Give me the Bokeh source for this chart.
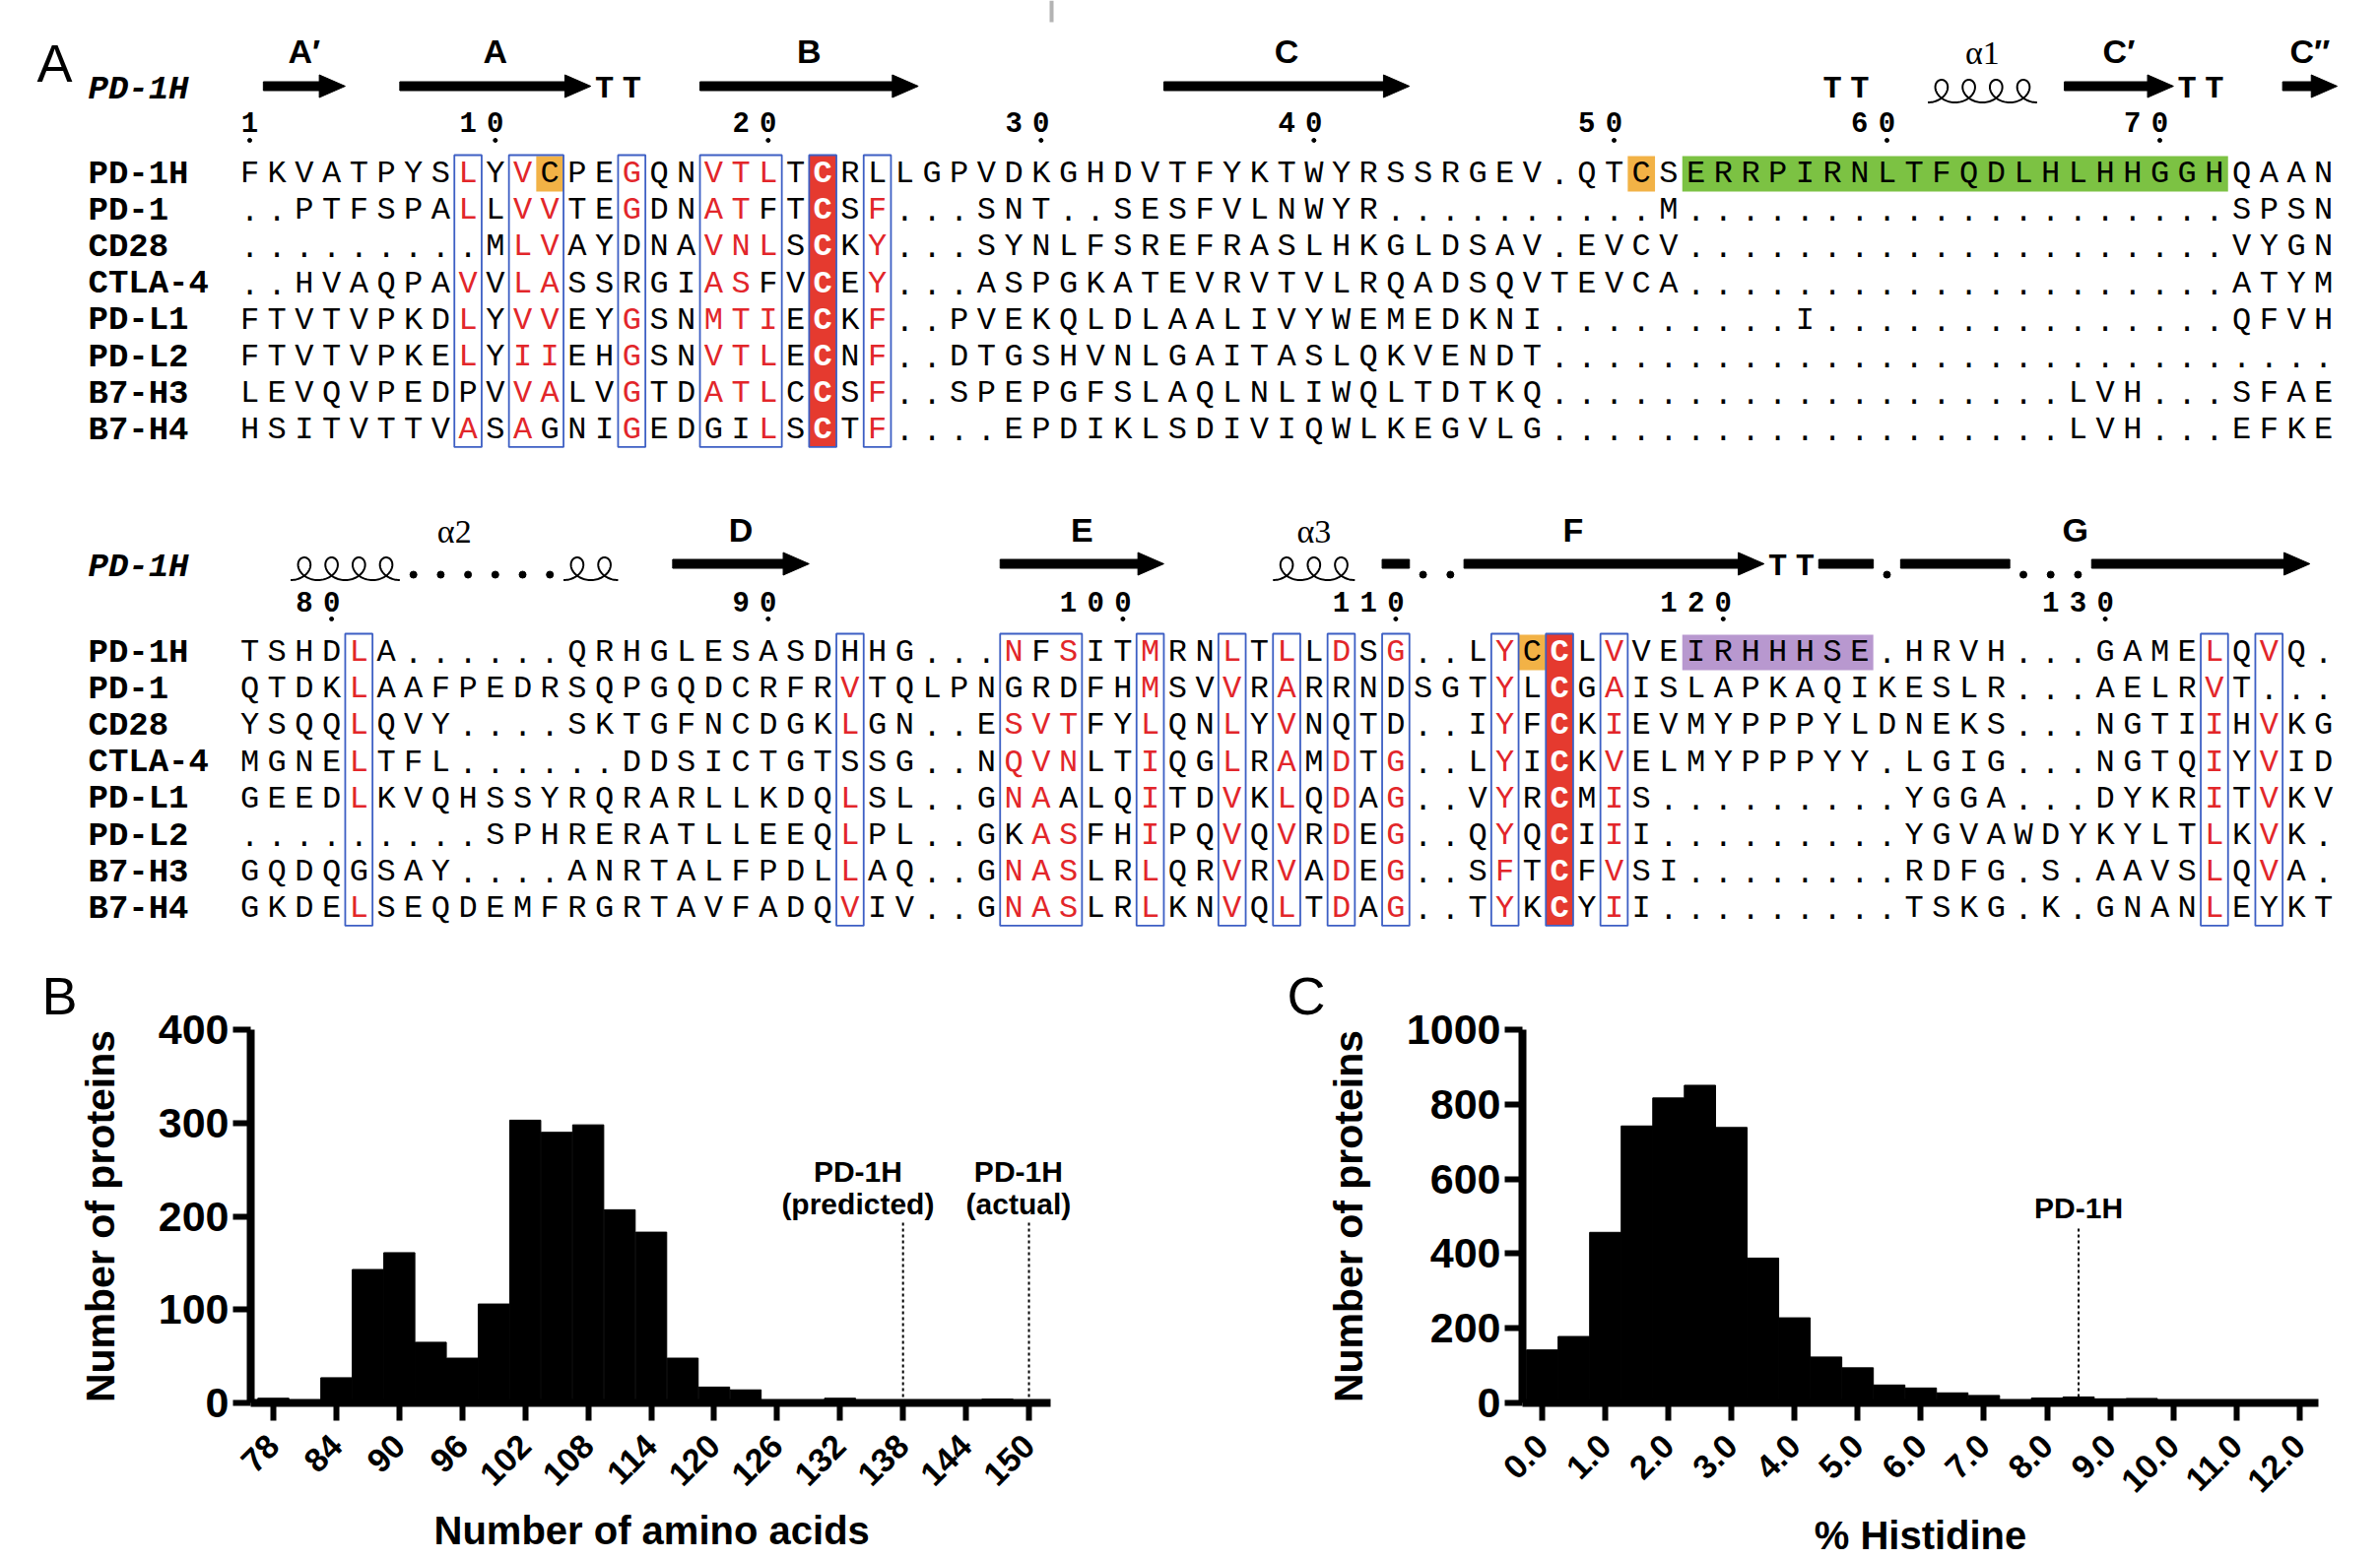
import math
import numpy as np
from bokeh.plotting import figure
from bokeh.models import Range1d, FixedTicker, Label, NumeralTickFormatter, Title
from bokeh.layouts import column, row
from bokeh.embed import file_html
from bokeh.resources import INLINE
from bokeh.core.properties import value

# ------------------------------------------------------------------ data
names = ["PD-1H", "PD-1", "CD28", "CTLA-4", "PD-L1", "PD-L2", "B7-H3", "B7-H4"]

block1_rows = [
    "FKVATPYSLYVCPEGQNVTLTCRLLGPVDKGHDVTFYKTWYRSSRGEV" + "." + "QTCSERRPIRNLTFQDLHLHHGGHQAAN",
    "..PTFSPALLVVTEGDNATFTCSF...SNT..SESFVLNWYR" + ".........." + "M" + "...................." + "SPSN",
    "........." + "MLVAYDNAVNLSCKY" + "..." + "SYNLFSREFRASLHKGLDSAV" + "." + "EVCV" + "...................." + "VYGN",
    "..HVAQPAVVLASSRGIASFVCEY" + "..." + "ASPGKATEVRVTVLRQADSQVTEVCA" + "...................." + "ATYM",
    "FTVTVPKDLYVVEYGSNMTIECKF" + ".." + "PVEKQLDLAALIVYWEMEDKNI" + "........." + "I" + "..............." + "QFVH",
    "FTVTVPKELYIIEHGSNVTLECNF" + ".." + "DTGSHVNLGAITASLQKVENDT" + ".............................",
    "LEVQVPEDPVVALVGTDATLCCSF" + ".." + "SPEPGFSLAQLNLIWQLTDTKQ" + "..................." + "LVH" + "..." + "SFAE",
    "HSITVTTVASAGNIGEDGILSCTF" + "...." + "EPDIKLSDIVIQWLKEGVLG" + "..................." + "LVH" + "..." + "EFKE",
]
block2_rows = [
    "TSHDLA" + "......" + "QRHGLESASDHHG" + "..." + "NFSITMRNLTLLDSG" + ".." + "LYCCLVVEIRHHHSE" + "." + "HRVH" + "..." + "GAMELQVQ" + ".",
    "QTDKLAAFPEDRSQPGQDCRFRVTQLPNGRDFHMSVVRARRNDSGTYLCGAISLAPKAQIKESLR" + "..." + "AELRVT" + "...",
    "YSQQLQVY" + "...." + "SKTGFNCDGKLGN" + ".." + "ESVTFYLQNLYVNQTD" + ".." + "IYFCKIEVMYPPPYLDNEKS" + "..." + "NGTIIHVKG",
    "MGNELTFL" + "......" + "DDSICTGTSSG" + ".." + "NQVNLTIQGLRAMDTG" + ".." + "LYICKVELMYPPPYY" + "." + "LGIG" + "..." + "NGTQIYVID",
    "GEEDLKVQHSSYRQRARLLKDQLSL" + ".." + "GNAALQITDVKLQDAG" + ".." + "VYRCMIS" + "........." + "YGGA" + "..." + "DYKRITVKV",
    "........." + "SPHRERATLLEEQLPL" + ".." + "GKASFHIPQVQVRDEG" + ".." + "QYQCIII" + "........." + "YGVAWDYKYLTLKVK" + ".",
    "GQDQGSAY" + "...." + "ANRTALFPDLLAQ" + ".." + "GNASLRLQRVRVADEG" + ".." + "SFTCFVSI" + "........" + "RDFG.S.AAVSLQVA.",
    "GKDELSEQDEMFRGRTAVFADQVIV" + ".." + "GNASLRLKNVQLTDAG" + ".." + "TYKCYII" + "........." + "TSKG.K.GNANLEYKT",
]

block1_boxes = [(8, 8), (10, 11), (14, 14), (17, 19), (23, 23)]
block1_filled = 21
block1_black = {0: [11, 23], 1: [19], 2: [14], 3: [14, 19], 6: [8], 7: [11, 17, 18]}
block1_highlight = [(11, 11, "orange"), (51, 51, "orange"), (53, 72, "green")]
block1_numbers = [1, 10, 20, 30, 40, 50, 60, 70]
block1_ss = [("E", 0.5, 3.5), ("E", 5.5, 12.5), ("T", 13, 14), ("E", 16.5, 24.5),
             ("E", 33.5, 42.5), ("T", 58, 59), ("H", 61.5, 65.5), ("E", 66.5, 70.5),
             ("T", 71, 72), ("E", 74.5, 76.5)]
block1_ss_labels = [("A\u2032", 2.0, "sans"), ("A", 9.0, "sans"), ("B", 20.5, "sans"),
                    ("C", 38.0, "sans"), ("\u03b11", 63.5, "serif"),
                    ("C\u2032", 68.5, "sans"), ("C\u2033", 75.5, "sans")]

block2_boxes = [(4, 4), (22, 22), (28, 30), (33, 33), (36, 36), (38, 38), (40, 40),
                (42, 42), (46, 46), (50, 50), (72, 72), (74, 74)]
block2_filled = 48
block2_black = {0: [22, 29], 1: [28, 29, 30, 40, 42], 2: [40, 42], 3: [22], 4: [30],
                5: [28], 6: [4], 7: [74]}
block2_highlight = [(47, 47, "orange"), (53, 59, "purple")]
block2_numbers = [80, 90, 100, 110, 120, 130]
block2_ss = [("H", 1.5, 5.5), ("D", 6, 11), ("H", 11.5, 13.5), ("E", 15.5, 20.5),
             ("E", 27.5, 33.5), ("H", 37.5, 40.5), ("B", 41.5, 42.5), ("D", 43, 44),
             ("E", 44.5, 55.5), ("T", 56, 57), ("B", 57.5, 59.5), ("D", 60, 60),
             ("B", 60.5, 64.5), ("D", 65, 67), ("E", 67.5, 75.5)]
block2_ss_labels = [("\u03b12", 7.5, "serif"), ("D", 18.0, "sans"), ("E", 30.5, "sans"),
                    ("\u03b13", 39.0, "serif"), ("F", 48.5, "sans"), ("G", 66.9, "sans")]

aa_bins = [78, 81, 84, 87, 90, 93, 96, 99, 102, 105, 108, 111, 114, 117, 120, 123,
           126, 129, 132, 135, 138, 141, 144, 147, 150]
aa_counts = [5, 3, 27, 143, 161, 65, 48, 106, 303, 290, 298, 207, 183, 48, 17, 14,
             2, 2, 5, 2, 1, 1, 1, 4, 1]
aa_ticks = [78, 84, 90, 96, 102, 108, 114, 120, 126, 132, 138, 144, 150]
aa_marks = [(138, "PD-1H", "(predicted)"), (150, "PD-1H", "(actual)")]

his_bins = [0.0, 0.5, 1.0, 1.5, 2.0, 2.5, 3.0, 3.5, 4.0, 4.5, 5.0, 5.5, 6.0, 6.5,
            7.0, 7.5, 8.0, 8.5, 9.0, 9.5, 10.0, 10.5, 11.0, 11.5, 12.0]
his_counts = [142, 178, 457, 742, 817, 851, 738, 388, 228, 123, 94, 48, 40, 27,
              20, 6, 13, 16, 11, 12, 2, 1, 1, 1, 1]
his_ticks = [0, 1, 2, 3, 4, 5, 6, 7, 8, 9, 10, 11, 12]
his_mark = 8.5

# ------------------------------------------------------------------ style
MONO = "Liberation Mono"
SANS = "Liberation Sans"
SERIF = "Liberation Serif"
RED_TXT = "#e2262a"
RED_FILL = "#e53a2f"
BLUE = "#3d5fc4"
HL = {"orange": "#f2b246", "green": "#7cc243", "purple": "#b898cf"}

COL_W = 27.7          # px per alignment column
COL0_X = 253.0        # page x of column 0
X0 = -COL0_X / COL_W
X1 = X0 + 2400 / COL_W
ROW_STEP = 37.2
A_H = 950

geo1 = dict(label_y=51, ss_y=87, num_y=123, tick_y=142, row0=176)
geo2 = dict(label_y=537, ss_y=572, num_y=610, tick_y=628, row0=662)

pA = figure(width=2400, height=A_H, x_range=Range1d(X0, X1), y_range=Range1d(A_H, 0),
            title=None, toolbar_location=None, output_backend="svg",
            x_axis_type=None, y_axis_type=None, min_border=0)
pA.outline_line_color = None


def col_of_page(x):
    return (x - COL0_X) / COL_W


def draw_block(p, rows, boxes, filled, black, highlight, numbers, ss, ss_labels, g, start_res):
    ys = [g["row0"] + i * ROW_STEP for i in range(len(rows))]
    top = g["row0"] - 19
    bot = ys[-1] + 17
    for c0, c1, name in highlight:
        p.quad(left=[c0 - 0.5], right=[c1 + 0.5], top=[g["row0"] - 18], bottom=[g["row0"] + 18],
               fill_color=HL[name], line_color=None)
    p.quad(left=[filled - 0.5], right=[filled + 0.5], top=[top], bottom=[bot],
           fill_color=RED_FILL, line_color=None)
    runs = boxes + [(filled, filled)]
    p.quad(left=[a - 0.5 for a, b in runs], right=[b + 0.5 for a, b in runs],
           top=[top] * len(runs), bottom=[bot] * len(runs),
           fill_color=None, line_color=BLUE, line_width=1.8)
    boxed = set(c for a, b in boxes for c in range(a, b + 1))
    groups = {}
    for r, seq in enumerate(rows):
        for c, ch in enumerate(seq):
            if c == filled:
                key = ("white", "bold")
            elif c in boxed and ch != "." and c not in black.get(r, []):
                key = (RED_TXT, "normal")
            else:
                key = ("black", "normal")
            gx, gy, gt = groups.setdefault(key, ([], [], []))
            gx.append(c)
            gy.append(ys[r])
            gt.append(ch)
    for (color, style), (gx, gy, gt) in groups.items():
        p.text(x=gx, y=gy, text=gt, text_color=color, text_font=value(MONO),
               text_font_style=value(style), text_font_size=value("32px"),
               text_align="center", text_baseline="middle")
    nx = col_of_page(89)
    p.text(x=[nx] * len(names), y=ys, text=names, text_font=value(MONO),
           text_font_style=value("bold"), text_font_size=value("34px"),
           text_align="left", text_baseline="middle", text_color="black")
    p.text(x=[nx], y=[g["ss_y"] + 3], text=["PD-1H"], text_font=value(MONO),
           text_font_style=value("bold italic"), text_font_size=value("34px"),
           text_align="left", text_baseline="middle", text_color="black")
    dx, dy, dt, tx = [], [], [], []
    res = start_res
    for c, ch in enumerate(rows[0]):
        if ch == ".":
            continue
        if res in numbers:
            s = str(res)
            for k, d in enumerate(reversed(s)):
                dx.append(c - k)
                dy.append(g["num_y"])
                dt.append(d)
            tx.append(c)
        res += 1
    p.text(x=dx, y=dy, text=dt, text_font=value(MONO), text_font_style=value("bold"),
           text_font_size=value("29px"), text_align="center", text_baseline="middle",
           text_color="black")
    p.scatter(x=tx, y=[g["tick_y"]] * len(tx), size=4, color="black")
    y = g["ss_y"]
    ql, qr, qt, qb, hx, hy, tt_x, dot_x, hxs, hys = [], [], [], [], [], [], [], [], [], []
    for kind, s, e in ss:
        if kind == "E":
            ql.append(s); qr.append(e - 0.9); qt.append(y - 4.5); qb.append(y + 4.5)
            hx.append([e - 0.95, e, e - 0.95]); hy.append([y - 11.5, y, y + 11.5])
        elif kind == "B":
            ql.append(s); qr.append(e); qt.append(y - 4.5); qb.append(y + 4.5)
        elif kind == "T":
            tt_x += list(range(int(s), int(e) + 1))
        elif kind == "D":
            dot_x += list(range(int(s), int(e) + 1))
        elif kind == "H":
            n = int(round(e - s))
            t = np.linspace(-np.pi, (2 * n - 1) * np.pi, 80 * n)
            hxs.append(list(s + 0.5 + t / (2 * np.pi) - 0.45 * np.sin(t)))
            hys.append(list(y + 5 - 11.5 * np.cos(t)))
    if ql:
        p.quad(left=ql, right=qr, top=qt, bottom=qb, color="black")
    if hx:
        p.patches(xs=hx, ys=hy, color="black")
    if tt_x:
        p.text(x=tt_x, y=[y + 3] * len(tt_x), text=["T"] * len(tt_x), text_font=value(MONO),
               text_font_style=value("bold"), text_font_size=value("32px"),
               text_align="center", text_baseline="middle", text_color="black")
    if dot_x:
        p.scatter(x=dot_x, y=[y + 11] * len(dot_x), size=7, color="black")
    if hxs:
        p.multi_line(xs=hxs, ys=hys, line_color="black", line_width=2)
    for lab, cx, fam in ss_labels:
        if fam == "serif":
            p.text(x=[cx], y=[g["label_y"] + 2], text=[lab], text_font=value(SERIF),
                   text_font_size=value("34px"), text_align="center", text_baseline="middle",
                   text_color="black")
        else:
            p.text(x=[cx], y=[g["label_y"]], text=[lab], text_font=value(SANS),
                   text_font_style=value("bold"), text_font_size=value("34px"),
                   text_align="center", text_baseline="middle", text_color="black")
    return res


next_res = draw_block(pA, block1_rows, block1_boxes, block1_filled, block1_black,
                      block1_highlight, block1_numbers, block1_ss, block1_ss_labels, geo1, 1)
draw_block(pA, block2_rows, block2_boxes, block2_filled, block2_black, block2_highlight,
           block2_numbers, block2_ss, block2_ss_labels, geo2, next_res)

pA.text(x=[col_of_page(55)], y=[63], text=["A"], text_font=value(SANS),
        text_font_size=value("54px"), text_align="center", text_baseline="middle",
        text_color="black")
pA.quad(left=[col_of_page(1065)], right=[col_of_page(1069)], top=[0], bottom=[22],
        fill_color="#b3b3b3", line_color=None)


# ------------------------------------------------------------------ histograms
FIG_W, FIG_H = 1200, 634


def hist_fig(fig_x, fig_y, frame, xr, yr, letter, letter_x):
    l, r, t, b = frame
    p = figure(width=FIG_W, height=FIG_H, x_range=Range1d(*xr), y_range=Range1d(*yr),
               title=None, toolbar_location=None, output_backend="svg",
               min_border_left=int(l - fig_x), min_border_right=int(fig_x + FIG_W - r),
               min_border_top=int(t - fig_y), min_border_bottom=int(fig_y + FIG_H - b))
    p.title = Title(text=letter, align="left", offset=letter_x - l, standoff=10,
                    text_font=SANS, text_font_size="54px", text_font_style="normal",
                    text_color="black")
    p.xgrid.visible = False
    p.ygrid.visible = False
    p.outline_line_color = None
    for ax in (p.xaxis[0], p.yaxis[0]):
        ax.axis_line_width = 8
        ax.axis_line_color = "black"
        ax.major_tick_line_width = 6
        ax.major_tick_line_color = "black"
        ax.major_tick_out = 18
        ax.major_tick_in = 0
        ax.minor_tick_line_color = None
        ax.major_label_text_font = SANS
        ax.major_label_text_font_style = "bold"
        ax.major_label_text_color = "black"
        ax.axis_label_text_font = SANS
        ax.axis_label_text_font_style = "bold"
        ax.axis_label_text_color = "black"
    p.xaxis.major_label_orientation = math.pi / 4
    p.xaxis.major_label_text_font_size = "34px"
    p.xaxis.major_label_standoff = 20
    p.xaxis.axis_label_text_font_size = "40px"
    p.xaxis.axis_label_standoff = 8
    p.yaxis.major_label_text_font_size = "43px"
    p.yaxis.major_label_standoff = 4
    p.yaxis.axis_label_text_font_size = "41px"
    p.yaxis.axis_label_standoff = 33
    return p


B_FRAME = (254, 1110, 1040, 1424)
B_X = (75.84, 75.84 + (1110 - 254) / 10.653)
B_Y = (0, 400)
pB = hist_fig(0, A_H, B_FRAME, B_X, B_Y, "B", 42)
pB.vbar(x=aa_bins, top=aa_counts, width=2.96, color="black")
pB.xaxis.bounds = (75.84, 152.07)
pB.xaxis.ticker = FixedTicker(ticks=aa_ticks)
pB.yaxis.ticker = FixedTicker(ticks=[0, 100, 200, 300, 400])
pB.yaxis.axis_label = "Number of proteins"
pB.add_layout(Title(text="Number of amino acids", align="left", offset=186, standoff=17,
                    text_font=SANS, text_font_size="40px", text_font_style="bold",
                    text_color="black"), "below")
for xm, l1, l2 in aa_marks:
    pB.segment(x0=[xm], y0=[0], x1=[xm], y1=[195], line_color="black", line_width=2,
               line_dash="3 3")
    cx = xm - 4.3 if xm < 145 else xm - 1.0
    pB.add_layout(Label(x=cx, y=248, text=l1, text_font=SANS, text_font_style="bold",
                        text_font_size="30px", text_align="center", text_baseline="middle",
                        text_color="black"))
    pB.add_layout(Label(x=cx, y=213, text=l2, text_font=SANS, text_font_style="bold",
                        text_font_size="30px", text_align="center", text_baseline="middle",
                        text_color="black"))

C_FRAME = (1545, 2353, 1045, 1427)
C_X = (-0.312, 12.30)
C_Y = (0, 1000)
pC = hist_fig(1200, A_H, C_FRAME, C_X, C_Y, "C", 1306)
pC.vbar(x=his_bins, top=his_counts, width=0.495, color="black")
pC.xaxis.ticker = FixedTicker(ticks=his_ticks)
pC.xaxis.formatter = NumeralTickFormatter(format="0.0")
pC.yaxis.ticker = FixedTicker(ticks=[0, 200, 400, 600, 800, 1000])
pC.xaxis.axis_label = "% Histidine"
pC.yaxis.axis_label = "Number of proteins"
pC.segment(x0=[his_mark], y0=[0], x1=[his_mark], y1=[470], line_color="black",
           line_width=2, line_dash="3 3")
pC.add_layout(Label(x=his_mark, y=522, text="PD-1H", text_font=SANS, text_font_style="bold",
                    text_font_size="30px", text_align="center", text_baseline="middle",
                    text_color="black"))

layout = column(pA, row(pB, pC, spacing=0), spacing=0)
open("out.html", "w").write(file_html(layout, INLINE))
